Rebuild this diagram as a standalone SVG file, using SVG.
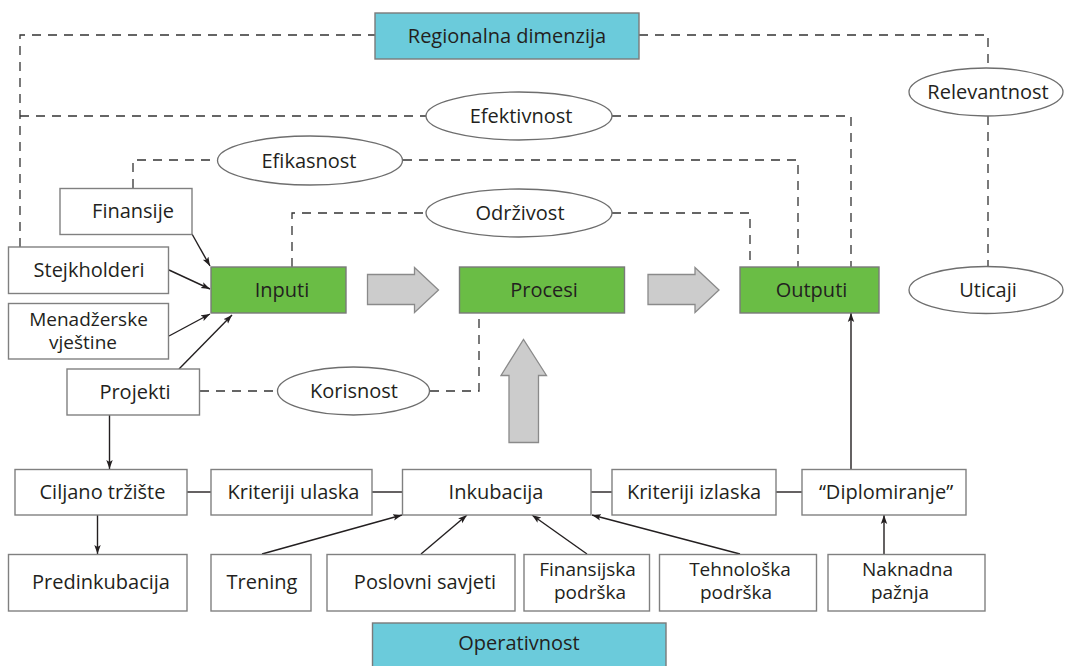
<svg xmlns="http://www.w3.org/2000/svg" width="1066" height="666" viewBox="0 0 1066 666">
  <defs>
    <marker id="ah" markerWidth="10" markerHeight="8" refX="9" refY="4" orient="auto" markerUnits="userSpaceOnUse">
      <path d="M0,0.8 L9,4 L0,7.2 L2,4 Z" fill="#231f20"/>
    </marker>
    <style>
      text { font-family: "Open Sans", "Noto Sans", sans-serif; font-size: 20px; fill: #231f20; text-anchor: middle; }
      text.two { font-size: 19px; }
      .box { fill: #ffffff; stroke: #808080; stroke-width: 1.4; }
      .green { fill: #6abd45; stroke: #7a7a7a; stroke-width: 1.4; }
      .cyan { fill: #6bcbdb; stroke: #7a7a7a; stroke-width: 1.4; }
      .oval { fill: #ffffff; stroke: #6e6e6e; stroke-width: 1.3; }
      .big { fill: #cccccc; stroke: #8a8a8a; stroke-width: 1.3; }
      .dash { fill: none; stroke: #333333; stroke-width: 1.3; stroke-dasharray: 9 7; }
      .link { fill: none; stroke: #231f20; stroke-width: 1.4; }
      .arrow { fill: none; stroke: #231f20; stroke-width: 1.4; marker-end: url(#ah); }
    </style>
  </defs>

  <rect width="1066" height="666" fill="#ffffff"/>

  <!-- connectors -->
  <g id="connectors">
    <!-- dashed evaluation links -->
    <path class="dash" d="M20,247 V35 H375"/>
    <path class="dash" d="M639,35 H988 V68"/>
    <path class="dash" d="M988,116 V267"/>
    <path class="dash" d="M20,116 H426"/>
    <path class="dash" d="M612,116 H851 V267"/>
    <path class="dash" d="M133,188 V160 H218"/>
    <path class="dash" d="M403,160 H798 V267"/>
    <path class="dash" d="M292,267 V213 H426"/>
    <path class="dash" d="M612,213 H750 V267"/>
    <path class="dash" d="M200,391 H277"/>
    <path class="dash" d="M430,391 H479 V313"/>

    <!-- inputs -->
    <line class="arrow" x1="192" y1="234" x2="210" y2="266"/>
    <line class="arrow" x1="169" y1="270" x2="210" y2="289"/>
    <line class="arrow" x1="169" y1="336" x2="210" y2="314"/>
    <line class="arrow" x1="179" y1="369" x2="232" y2="315"/>

    <!-- operational flow -->
    <line class="arrow" x1="109.5" y1="415" x2="109.5" y2="469"/>
    <line class="arrow" x1="97.5" y1="515" x2="97.5" y2="554"/>
    <line class="link" x1="187" y1="492" x2="211" y2="492"/>
    <line class="link" x1="372" y1="492" x2="402" y2="492"/>
    <line class="link" x1="591" y1="492" x2="612" y2="492"/>
    <line class="link" x1="776" y1="492" x2="802" y2="492"/>
    <line class="arrow" x1="262" y1="554" x2="402" y2="515"/>
    <line class="arrow" x1="421" y1="554" x2="467" y2="515"/>
    <line class="arrow" x1="587" y1="554" x2="532" y2="515"/>
    <line class="arrow" x1="740" y1="554" x2="592" y2="515"/>
    <line class="arrow" x1="884" y1="554" x2="884" y2="515"/>
    <line class="arrow" x1="851" y1="469" x2="851" y2="313"/>

    <!-- flow arrows -->
    <polygon class="big" points="367.5,274.5 414.5,274.5 414.5,267.5 438.5,290 414.5,312.5 414.5,304.5 367.5,304.5"/>
    <polygon class="big" points="648,274.5 695,274.5 695,267.5 719,290 695,312.5 695,304.5 648,304.5"/>
    <polygon class="big" points="509,442.5 509,375.5 501,375.5 523.5,339.5 546.5,375.5 538.5,375.5 538.5,442.5"/>
  </g>

  <!-- dimensions -->
  <g id="regionalna">
    <rect class="cyan" x="375" y="13" width="264" height="46"/>
    <text x="507" y="43">Regionalna dimenzija</text>
  </g>
  <g id="operativnost">
    <rect class="cyan" x="372.5" y="623" width="293.5" height="60"/>
    <text x="519" y="650">Operativnost</text>
  </g>

  <!-- evaluation criteria -->
  <g id="relevantnost">
    <ellipse class="oval" cx="986" cy="92" rx="77" ry="24"/>
    <text x="988" y="99">Relevantnost</text>
  </g>
  <g id="efektivnost">
    <ellipse class="oval" cx="519" cy="116" rx="93" ry="24"/>
    <text x="521" y="123">Efektivnost</text>
  </g>
  <g id="efikasnost">
    <ellipse class="oval" cx="310" cy="160.5" rx="92.5" ry="24.5"/>
    <text x="309" y="167.5">Efikasnost</text>
  </g>
  <g id="odrzivost">
    <ellipse class="oval" cx="519" cy="213" rx="93" ry="24"/>
    <text x="520" y="220">Održivost</text>
  </g>
  <g id="korisnost">
    <ellipse class="oval" cx="353.5" cy="391" rx="76" ry="24"/>
    <text x="354" y="398">Korisnost</text>
  </g>
  <g id="uticaji">
    <ellipse class="oval" cx="986" cy="290" rx="77" ry="23.5"/>
    <text x="988" y="297">Uticaji</text>
  </g>

  <!-- input sources -->
  <g id="finansije">
    <rect class="box" x="60" y="188.5" width="132" height="46"/>
    <text x="133" y="218">Finansije</text>
  </g>
  <g id="stejkholderi">
    <rect class="box" x="8.5" y="247" width="160" height="46.5"/>
    <text x="89" y="277">Stejkholderi</text>
  </g>
  <g id="menadzerske">
    <rect class="box" x="8.5" y="303.5" width="160" height="55.5"/>
    <text class="two" x="88.5" y="326">Menadžerske</text>
    <text class="two" x="83" y="349">vještine</text>
  </g>
  <g id="projekti">
    <rect class="box" x="67" y="369" width="132.5" height="46"/>
    <text x="135" y="398.5">Projekti</text>
  </g>

  <!-- core chain -->
  <g id="inputi">
    <rect class="green" x="211" y="267" width="135" height="46"/>
    <text x="282" y="297">Inputi</text>
  </g>
  <g id="procesi">
    <rect class="green" x="459.5" y="267" width="165" height="46"/>
    <text x="544" y="297">Procesi</text>
  </g>
  <g id="outputi">
    <rect class="green" x="740" y="267" width="139" height="46"/>
    <text x="811.5" y="297">Outputi</text>
  </g>

  <!-- incubation stages -->
  <g id="ciljano">
    <rect class="box" x="15" y="469.5" width="172" height="45.5"/>
    <text x="102.5" y="499">Ciljano tržište</text>
  </g>
  <g id="kriteriji-ulaska">
    <rect class="box" x="211" y="469.5" width="161" height="45.5"/>
    <text x="293.5" y="499">Kriteriji ulaska</text>
  </g>
  <g id="inkubacija">
    <rect class="box" x="402.5" y="469.5" width="188.5" height="45.5"/>
    <text x="496" y="499">Inkubacija</text>
  </g>
  <g id="kriteriji-izlaska">
    <rect class="box" x="612" y="469.5" width="164" height="45.5"/>
    <text x="694" y="499">Kriteriji izlaska</text>
  </g>
  <g id="diplomiranje">
    <rect class="box" x="802" y="469.5" width="164" height="45.5"/>
    <text x="886" y="499">“Diplomiranje”</text>
  </g>

  <!-- support services -->
  <g id="predinkubacija">
    <rect class="box" x="8.5" y="554.5" width="178.5" height="56.5"/>
    <text x="101" y="589">Predinkubacija</text>
  </g>
  <g id="trening">
    <rect class="box" x="211" y="554.5" width="100" height="56.5"/>
    <text x="262" y="589">Trening</text>
  </g>
  <g id="poslovni-savjeti">
    <rect class="box" x="327" y="554.5" width="188" height="56.5"/>
    <text x="425" y="589">Poslovni savjeti</text>
  </g>
  <g id="finansijska-podrska">
    <rect class="box" x="524" y="554.5" width="125.5" height="56.5"/>
    <text class="two" x="587.5" y="576">Finansijska</text>
    <text class="two" x="590" y="599">podrška</text>
  </g>
  <g id="tehnoloska-podrska">
    <rect class="box" x="659.5" y="554.5" width="157" height="56.5"/>
    <text class="two" x="740" y="576">Tehnološka</text>
    <text class="two" x="736" y="599">podrška</text>
  </g>
  <g id="naknadna-paznja">
    <rect class="box" x="828" y="554.5" width="157" height="56.5"/>
    <text class="two" x="907.5" y="576">Naknadna</text>
    <text class="two" x="900" y="599">pažnja</text>
  </g>
</svg>
